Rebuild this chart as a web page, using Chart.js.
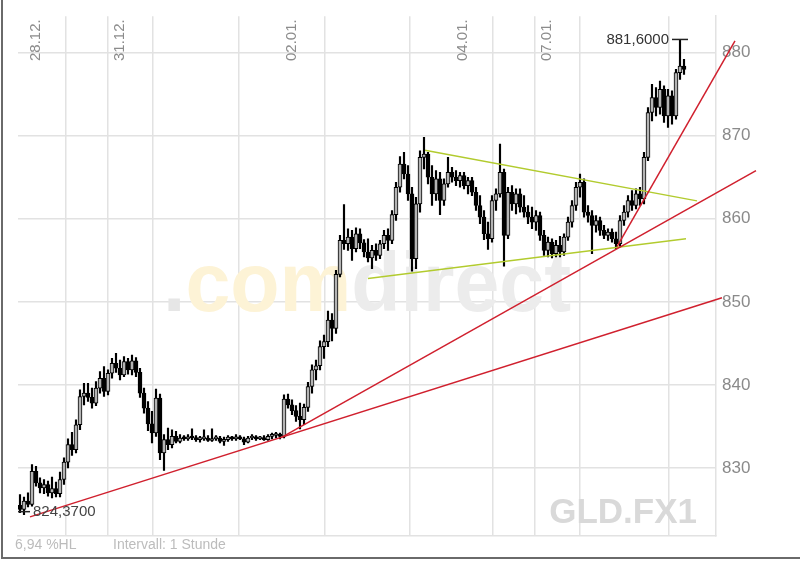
<!DOCTYPE html>
<html>
<head>
<meta charset="utf-8">
<script src="https://cdn.jsdelivr.net/npm/chart.js@4.4.0/dist/chart.umd.min.js"></script>
<style>
  html, body { margin: 0; padding: 0; background: #fff; }
  #wrap { width: 800px; height: 562px; position: relative; }
</style>
</head>
<body>
<div id="wrap"><canvas id="chart" width="800" height="562"></canvas></div>
<script>
// hourly candles, GLD.FX1
const opens = [
  825.5, 825.0, 826.0, 825.6, 829.6, 828.2, 827.6, 828.0, 827.0, 827.5,
  826.9, 828.6, 830.7, 832.8, 832.2, 835.2, 838.6, 839.0, 838.5, 837.8,
  839.6, 840.8, 839.2, 841.4, 842.6, 842.0, 841.2, 842.8, 841.8, 842.9,
  841.5, 839.0, 837.2, 835.3, 834.2, 838.4, 831.8, 833.4, 832.8, 833.8,
  833.2, 833.6, 833.5, 833.7, 833.6, 833.4, 833.5, 833.6, 833.3, 833.5,
  833.6, 833.2, 833.4, 833.7, 833.5, 833.6, 833.5, 833.1, 833.6, 833.7,
  833.5, 833.6, 833.4, 833.8, 833.9, 834.0, 833.8, 838.3, 837.6, 836.9,
  836.2, 835.8, 837.3, 839.8, 841.8, 842.3, 844.6, 845.2, 847.8, 846.8,
  853.3, 857.4, 857.0, 857.8, 856.4, 858.2, 857.1, 856.0, 855.3, 856.2,
  855.6, 857.0, 858.0, 857.4, 860.5, 863.8, 866.6, 865.4, 863.0, 855.2,
  861.8, 867.4, 867.8, 865.0, 863.0, 864.8, 862.2, 864.2, 865.6, 865.0,
  864.6, 865.2, 864.0, 864.6, 863.2, 861.6, 860.2, 858.2, 857.6, 862.2,
  863.0, 865.6, 858.0, 863.2, 861.8, 863.0, 861.4, 860.8, 860.2, 859.6,
  860.4, 858.0, 856.2, 857.2, 855.8, 856.8, 856.0, 857.8, 859.6, 861.6,
  863.8, 864.4, 860.8, 860.4, 859.2, 859.8, 858.6, 858.0, 858.4, 857.6,
  857.0, 859.8, 860.8, 862.2, 861.6, 863.0, 862.4, 867.4, 872.8, 874.6,
  873.4, 875.6, 872.4, 874.8, 872.4, 877.6, 878.4
];
const highs = [
  826.8, 826.5, 827.0, 830.4, 830.2, 828.8, 828.6, 828.4, 828.9, 828.3,
  829.5, 831.2, 833.5, 834.3, 835.8, 839.4, 840.2, 840.2, 839.6, 840.4,
  841.6, 842.2, 841.8, 843.2, 843.8, 843.0, 843.4, 843.2, 843.6, 843.3,
  842.0, 839.6, 838.0, 836.8, 839.5, 838.9, 834.0, 834.8, 834.6, 834.4,
  834.0, 833.9, 834.0, 834.7, 833.9, 833.8, 834.6, 833.9, 834.7, 833.9,
  833.8, 833.7, 833.9, 833.8, 834.0, 833.9, 833.7, 833.8, 834.0, 833.9,
  833.8, 833.9, 834.0, 834.2, 834.3, 834.2, 838.8, 838.9, 838.2, 837.5,
  837.8, 837.7, 840.3, 842.4, 843.0, 845.3, 846.0, 848.9, 848.6, 853.8,
  858.0, 861.7, 858.8, 858.6, 858.9, 858.8, 857.5, 857.6, 856.8, 857.0,
  857.4, 858.6, 858.8, 861.0, 864.4, 867.5, 868.0, 866.4, 863.8, 862.6,
  868.2, 869.8, 868.0, 866.4, 865.8, 865.6, 864.8, 867.4, 866.2, 865.8,
  865.6, 865.6, 865.0, 865.0, 863.8, 862.8, 861.0, 859.6, 862.8, 863.6,
  869.0, 866.0, 863.8, 864.0, 863.6, 863.6, 862.8, 861.6, 861.4, 861.0,
  860.8, 858.6, 857.8, 857.6, 857.4, 857.9, 858.2, 860.2, 862.2, 864.4,
  865.4, 864.8, 861.6, 861.0, 860.4, 860.2, 859.2, 858.8, 858.8, 858.4,
  860.4, 861.6, 862.8, 863.4, 863.6, 863.8, 868.0, 873.4, 876.2, 875.8,
  876.6, 876.0, 875.6, 875.4, 878.0, 881.6, 879.2
];
const lows = [
  824.6, 824.37, 825.3, 825.4, 827.8, 827.0, 826.9, 826.6, 826.4, 826.5,
  826.5, 828.0, 830.0, 831.5, 831.8, 834.6, 837.6, 838.0, 837.2, 837.5,
  839.0, 838.6, 838.8, 840.8, 841.5, 840.6, 841.0, 841.3, 841.2, 841.0,
  838.5, 836.6, 834.5, 833.0, 833.8, 831.0, 829.7, 832.2, 832.4, 833.0,
  833.0, 833.3, 833.3, 833.4, 833.2, 833.1, 833.3, 833.2, 833.2, 833.3,
  833.0, 832.7, 833.2, 833.3, 833.3, 833.4, 832.8, 833.0, 833.4, 833.3,
  833.4, 833.3, 833.3, 833.5, 833.6, 833.5, 833.6, 837.2, 836.4, 835.6,
  834.7, 835.2, 836.8, 839.0, 840.6, 841.8, 843.2, 844.6, 845.3, 846.2,
  853.0, 856.3, 856.2, 855.0, 856.0, 856.4, 855.4, 854.8, 854.0, 855.0,
  855.2, 856.4, 856.2, 857.0, 859.8, 863.2, 864.8, 862.2, 853.7, 854.0,
  860.8, 866.0, 864.2, 861.6, 862.2, 860.5, 861.6, 863.8, 864.4, 864.0,
  863.8, 863.6, 863.0, 862.8, 861.0, 859.4, 857.5, 856.3, 857.2, 861.0,
  862.6, 854.3, 857.6, 861.0, 860.6, 860.8, 860.2, 859.4, 858.8, 858.6,
  857.4, 855.6, 855.4, 855.3, 855.4, 855.4, 855.6, 857.4, 859.0, 861.0,
  862.6, 860.2, 859.6, 855.8, 858.4, 858.0, 857.6, 857.4, 857.2, 856.4,
  856.6, 859.2, 860.2, 861.0, 861.2, 861.6, 861.8, 867.0, 871.8, 872.4,
  872.6, 871.6, 871.0, 871.4, 872.0, 876.8, 877.4
];
const closes = [
  825.0, 826.0, 825.6, 829.6, 828.2, 827.6, 828.0, 827.0, 827.5, 826.9,
  828.6, 830.7, 832.8, 832.2, 835.2, 838.6, 839.0, 838.5, 837.8, 839.6,
  840.8, 839.2, 841.4, 842.6, 842.0, 841.2, 842.8, 841.8, 842.9, 841.5,
  839.0, 837.2, 835.3, 834.2, 838.4, 831.8, 833.4, 832.8, 833.8, 833.2,
  833.6, 833.5, 833.7, 833.6, 833.4, 833.5, 833.6, 833.3, 833.5, 833.6,
  833.2, 833.4, 833.7, 833.5, 833.6, 833.5, 833.1, 833.6, 833.7, 833.5,
  833.6, 833.4, 833.8, 833.9, 834.0, 833.8, 838.3, 837.6, 836.9, 836.2,
  835.8, 837.3, 839.8, 841.8, 842.3, 844.6, 845.2, 847.8, 846.8, 853.3,
  857.4, 857.0, 857.8, 856.4, 858.2, 857.1, 856.0, 855.3, 856.2, 855.6,
  857.0, 858.0, 857.4, 860.5, 863.8, 866.6, 865.4, 863.0, 855.2, 861.8,
  867.4, 867.8, 865.0, 863.0, 864.8, 862.2, 864.2, 865.6, 865.0, 864.6,
  865.2, 864.0, 864.6, 863.2, 861.6, 860.2, 858.2, 857.6, 862.2, 863.0,
  865.6, 858.0, 863.2, 861.8, 863.0, 861.4, 860.8, 860.2, 859.6, 860.4,
  858.0, 856.2, 857.2, 855.8, 856.8, 856.0, 857.8, 859.6, 861.6, 863.8,
  864.4, 860.8, 860.4, 859.2, 859.8, 858.6, 858.0, 858.4, 857.6, 857.0,
  859.8, 860.8, 862.2, 861.6, 863.0, 862.4, 867.4, 872.8, 874.6, 873.4,
  875.6, 872.4, 874.8, 872.4, 877.6, 878.4, 878.0
];

// day gridlines (in bar units) and their labels
const dayTicks = [1.5, 21.25, 22.5, 43.75, 65.5, 86.75, 108.25, 128, 129.25, 150.5, 174];
const dayLabelPos = [1.5, 22.5, 65.5, 108.25, 129.25];
const dayLabels = ['28.12.', '31.12.', '02.01.', '04.01.', '07.01.'];
const priceTicks = [830, 840, 850, 860, 870, 880];

// drawn trend lines [bar, price]
const redLong = [[2.5, 824.1], [175.5, 850.5]];
const redMid = [[65.5, 833.7], [184, 865.8]];
const redSteep = [[149.25, 856.65], [178.75, 881.44]];
const greenTop = [[101.25, 868.26], [169.25, 862.16]];
const greenBottom = [[87, 852.81], [166.5, 857.6]];

const FONT = 'Arial, "Liberation Sans", sans-serif';
const gridColor = '#e2e2e2';

const wickData = highs.map((h, i) => ({ x: i, y: [lows[i], h] }));
const bodyData = opens.map((o, i) => ({ x: i, y: [o, closes[i]] }));
const bodyColors = opens.map((o, i) => closes[i] > o ? '#b4b4b4' : '#000');

function trend(pts, color) {
  return {
    type: 'line',
    data: pts.map(p => ({ x: p[0], y: p[1] })),
    borderColor: color,
    borderWidth: 1.5,
    pointRadius: 0,
    clip: false,
    order: 0
  };
}

const decor = {
  id: 'decor',
  beforeDatasetsDraw(chart) {
    const ctx = chart.ctx;
    ctx.save();
    ctx.font = 'bold 84px ' + FONT;
    ctx.textBaseline = 'alphabetic';
    const parts = [['.', '#e6e6e6'], ['com', '#fdf3d6'], ['direct', '#ececec']];
    const total = parts.reduce((s, p) => s + ctx.measureText(p[0]).width, 0);
    ctx.translate(163, 311);
    ctx.scale(408 / total, 1);
    let x = 0;
    for (const [t, c] of parts) {
      ctx.fillStyle = c;
      ctx.fillText(t, x, 0);
      x += ctx.measureText(t).width;
    }
    ctx.restore();

    ctx.save();
    ctx.font = 'bold 35px ' + FONT;
    ctx.fillStyle = '#d9d9d9';
    ctx.textAlign = 'right';
    ctx.textBaseline = 'alphabetic';
    ctx.fillText('GLD.FX1', 697, 523);
    ctx.restore();
  },
  afterDraw(chart) {
    const ctx = chart.ctx;
    const xs = chart.scales.x, ys = chart.scales.y;
    ctx.save();

    // day labels, rotated
    ctx.font = '15px ' + FONT;
    ctx.fillStyle = '#8c8c8c';
    dayLabelPos.forEach((v, k) => {
      ctx.save();
      ctx.translate(Math.round(xs.getPixelForValue(v)) + 2, 61);
      ctx.rotate(-Math.PI / 2);
      ctx.textAlign = 'left';
      ctx.textBaseline = 'top';
      ctx.fillText(dayLabels[k], 0, 0);
      ctx.restore();
    });

    // high / low markers
    const maxH = Math.max(...highs), minL = Math.min(...lows);
    const hi = highs.indexOf(maxH), lo = lows.indexOf(minL);
    ctx.strokeStyle = '#222';
    ctx.lineWidth = 1.5;
    ctx.font = '15px ' + FONT;
    ctx.fillStyle = '#333';
    let px = xs.getPixelForValue(hi), py = ys.getPixelForValue(maxH);
    ctx.beginPath(); ctx.moveTo(px - 8, py); ctx.lineTo(px + 8, py); ctx.stroke();
    ctx.textAlign = 'right'; ctx.textBaseline = 'middle';
    ctx.fillText(maxH.toFixed(4).replace('.', ','), px - 11, py);
    px = xs.getPixelForValue(lo); py = ys.getPixelForValue(minL);
    ctx.beginPath(); ctx.moveTo(px - 6, py - 3); ctx.lineTo(px + 6, py - 3); ctx.stroke();
    ctx.fillStyle = '#444';
    ctx.textAlign = 'left';
    ctx.fillText(minL.toFixed(4).replace('.', ','), px + 9, py - 3);

    // footer
    ctx.font = '14px ' + FONT;
    ctx.fillStyle = '#bcbcbc';
    ctx.textBaseline = 'alphabetic';
    ctx.fillText('6,94 %HL', 15, 549);
    ctx.fillText('Intervall: 1 Stunde', 113, 549);

    // frame
    ctx.strokeStyle = '#6a6a6a';
    ctx.lineWidth = 2;
    ctx.beginPath();
    ctx.moveTo(2, 0); ctx.lineTo(2, 558); ctx.lineTo(800, 558);
    ctx.stroke();
    ctx.restore();
  }
};

new Chart(document.getElementById('chart'), {
  data: {
    datasets: [
      trend(redLong, '#d0202e'),
      trend(redMid, '#d0202e'),
      trend(redSteep, '#d0202e'),
      trend(greenTop, '#b2cb2e'),
      trend(greenBottom, '#b2cb2e'),
      { type: 'bar', data: bodyData, backgroundColor: bodyColors, borderColor: '#000', borderWidth: 1,
        borderSkipped: false, barThickness: 4, minBarLength: 2, grouped: false, order: 1 },
      { type: 'bar', data: wickData, backgroundColor: '#000', barThickness: 1.5, grouped: false, order: 2 }
    ]
  },
  options: {
    responsive: false,
    animation: false,
    events: [],
    layout: { padding: { left: 18, top: 13, right: 0, bottom: 26 } },
    plugins: { legend: { display: false }, tooltip: { enabled: false } },
    scales: {
      x: {
        type: 'linear', min: -0.5, max: 174, offset: false,
        afterBuildTicks: s => { s.ticks = dayTicks.map(v => ({ value: v })); },
        ticks: { display: false },
        grid: { color: gridColor, lineWidth: 1.5, drawTicks: false },
        border: { display: true, color: gridColor, width: 1.5 },
        afterFit: s => { s.height = 0; }
      },
      y: {
        position: 'right', min: 821.8, max: 884.4,
        afterBuildTicks: s => { s.ticks = priceTicks.map(v => ({ value: v })); },
        ticks: { color: '#8a8a8a', font: { size: 17, family: FONT }, padding: 6 },
        grid: { color: gridColor, lineWidth: 1.5, drawTicks: false },
        border: { display: true, color: gridColor, width: 1.5 },
        afterFit: s => { s.width = 84; }
      }
    }
  },
  plugins: [decor]
});
</script>
</body>
</html>
